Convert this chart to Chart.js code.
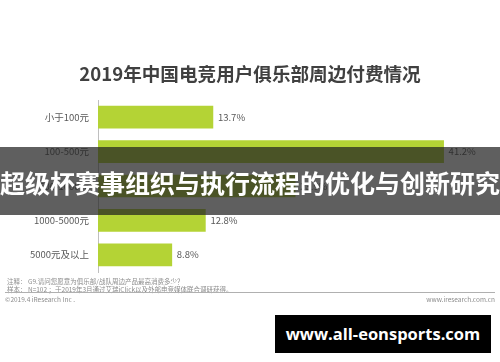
<!DOCTYPE html>
<html>
<head>
<meta charset="utf-8">
<script src="https://cdn.jsdelivr.net/npm/chart.js@4"></script>
<style>
  body { margin: 0; background: #fff; }
  #wrap { position: relative; width: 500px; height: 362px; overflow: hidden; font-family: "Noto Sans CJK SC", sans-serif; }
  #c { position: absolute; left: 0; top: 0; }
  .txt { position: absolute; white-space: nowrap; }
  #title { left: 0; width: 500px; top: 61px; text-align: center; font-size: 18.6px; font-weight: bold; color: #404040; line-height: 24px; }
  .note { font-size: 6.5px; color: #8c8c8c; line-height: 8px; }
  #rule { position: absolute; left: 5px; width: 490px; top: 292px; height: 1px; background: #b0b0b0; }
  #banner { position: absolute; left: 0; top: 147px; width: 500px; height: 68px; background: rgba(33,33,33,0.72); }
  #banner span { position: absolute; left: -10px; width: 520px; top: 18px; text-align: center; font-size: 25px; font-weight: bold; color: #fff; line-height: 34px; }
  #mark { position: absolute; left: 275px; top: 315px; width: 216px; height: 38px; background: #000; color: #fff; font-family: "Open Sans", sans-serif; font-weight: bold; font-size: 16.5px; line-height: 38px; text-align: center; }
</style>
</head>
<body>
<div id="wrap">
  <canvas id="c" width="500" height="362"></canvas>
  <div class="txt" id="title">2019年中国电竞用户俱乐部周边付费情况</div>
  <div class="txt note" style="left:7px;top:277px;">注释： G9.请问您愿意为俱乐部/战队周边产品最高消费多少？</div>
  <div class="txt note" style="left:7px;top:285px;">样本： N=102 ；于2019年3月通过艾瑞iClick以及外部电竞媒体联合调研获得。</div>
  <div id="rule"></div>
  <div class="txt note" style="left:5px;top:295px;">©2019.4 iResearch Inc .</div>
  <div class="txt note" style="right:5px;top:295px;">www.iresearch.com.cn</div>
  <div id="banner"><span>超级杯赛事组织与执行流程的优化与创新研究</span></div>
  <div id="mark">www.all-eonsports.com</div>
</div>
<script>
const categories = ['小于100元', '100-500元', '500-1000元', '1000-5000元', '5000元及以上'];
const shares = [13.7, 41.2, 23.5, 12.8, 8.8];

// 数值标签
const valueLabels = {
  id: 'valueLabels',
  afterDatasetsDraw(chart) {
    const ctx = chart.ctx;
    const meta = chart.getDatasetMeta(0);
    ctx.save();
    ctx.font = '9.5px "Noto Sans CJK SC", sans-serif';
    ctx.fillStyle = '#595959';
    ctx.textAlign = 'left';
    ctx.textBaseline = 'middle';
    meta.data.forEach((bar, i) => {
      ctx.fillText(shares[i].toFixed(1) + '%', bar.x + 5, bar.y);
    });
    ctx.restore();
  }
};

new Chart(document.getElementById('c'), {
  type: 'bar',
  data: {
    labels: categories,
    datasets: [{
      data: shares,
      backgroundColor: '#b4d335',
      barThickness: 22,
      categoryPercentage: 1
    }]
  },
  options: {
    indexAxis: 'y',
    responsive: false,
    animation: false,
    layout: { padding: { left: 0, right: 24.5, top: 100, bottom: 90 } },
    scales: {
      x: { display: false, min: 0, max: 45 },
      y: {
        afterFit(scale) { scale.width = 98; },
        grid: { display: false },
        border: { display: true, color: '#bfbfbf', width: 1 },
        ticks: { color: '#595959', font: { size: 9.5, family: '"Noto Sans CJK SC", sans-serif' }, padding: 1 }
      }
    },
    plugins: { legend: { display: false }, tooltip: { enabled: false } }
  },
  plugins: [valueLabels]
});
</script>
</body>
</html>
